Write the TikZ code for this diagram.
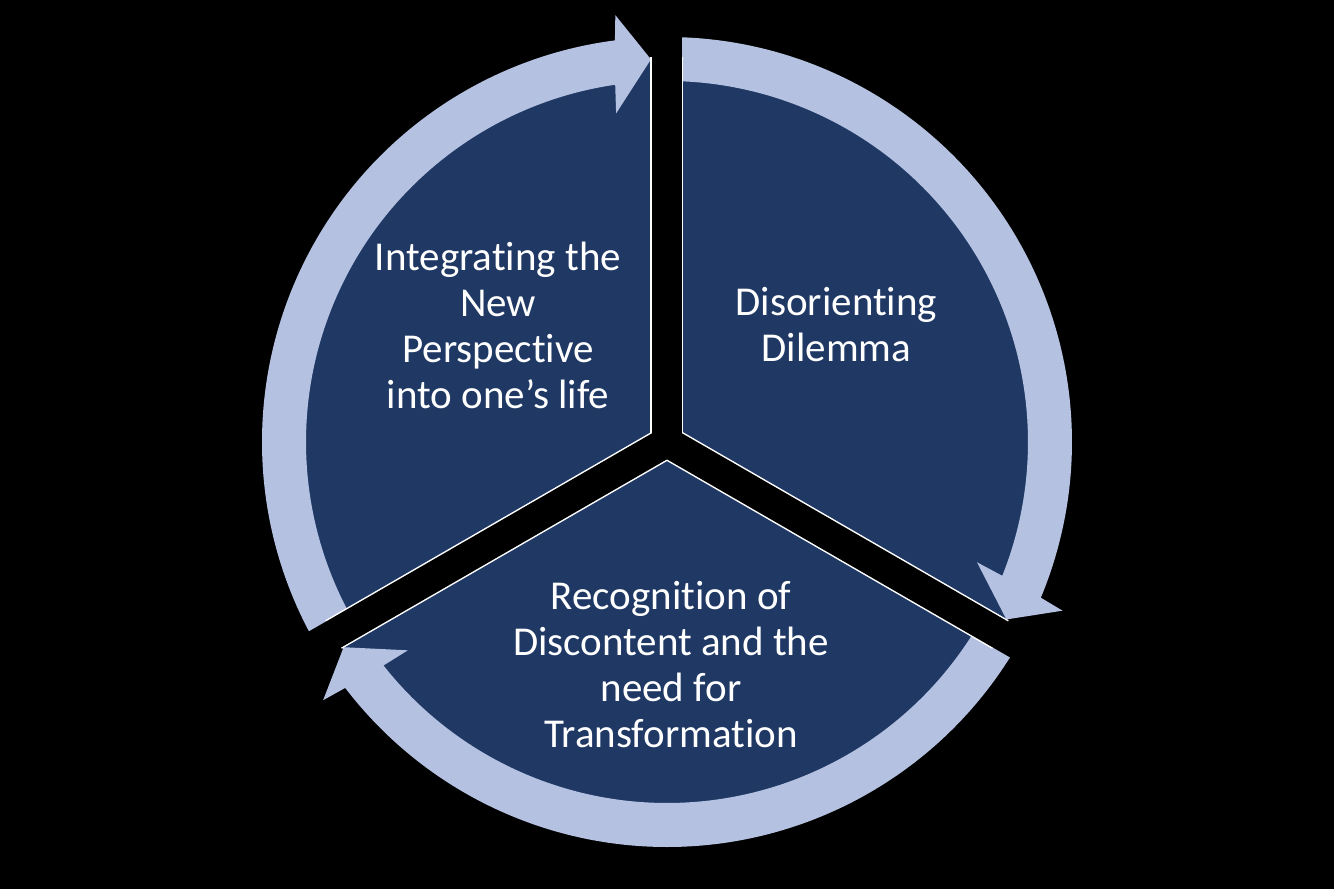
\documentclass[tikz,border=0pt]{standalone}
\usepackage{fontspec}
\setmainfont{Carlito}[Ligatures=NoCommon]
\definecolor{navy}{HTML}{1F3864}
\definecolor{ringblue}{HTML}{B4C1E1}
\begin{document}
\begin{tikzpicture}[x=0.5pt,y=0.5pt,
  ringarrow/.style={fill=ringblue},
  gapedge/.style={draw=white, line width=16.5pt, line cap=butt},
  gapcut/.style={draw=black, line width=15pt, line cap=butt},
  stagetext/.style={text=white, align=center, inner sep=0pt,
    font=\fontsize{20.5}{23}\selectfont}]
% background and bounding box
\useasboundingbox (-667,-447) rectangle (667,442);
\fill[black] (-667,-447) rectangle (667,442);
% pie
\fill[navy] (0,0) circle[radius=384];
% ring arrows (clockwise)
\foreach \gs in {90,-30,210} {
  \pgfmathsetmacro\t{\gs-120+2.4}
  \pgfmathsetmacro\aOut{\t+4.99}
  \pgfmathsetmacro\aOc{\t+4.5}
  \pgfmathsetmacro\aIc{\t+6.4}
  \pgfmathsetmacro\aIn{\t+5.85}
  \fill[ringarrow] (\gs:405) arc[start angle=\gs, end angle=\aOut, radius=405]
    -- (\aOc:430) -- (\t:383) -- (\aIc:332.5) -- (\aIn:361)
    arc[start angle=\aIn, end angle=\gs, radius=361] -- cycle;
}
% gaps with white outlines
\foreach \g in {90,210,330} \draw[gapedge] (0,0) -- (\g:385);
\foreach \g in {90,210,330} \draw[gapcut] (0,0) -- (\g:415);
\fill[black] (0,0) circle[radius=15];
% labels
\node[stagetext] (integrate) at (-169,116.5) {Integrating the\\New\\Perspective\\into one’s life};
\node[stagetext] (disorient) at (169.5,117) {Disorienting\\Dilemma};
\node[stagetext] (recognize) at (4,-223) {Recognition of\\Discontent and the\\need for\\Transformation};
\end{tikzpicture}
\end{document}
